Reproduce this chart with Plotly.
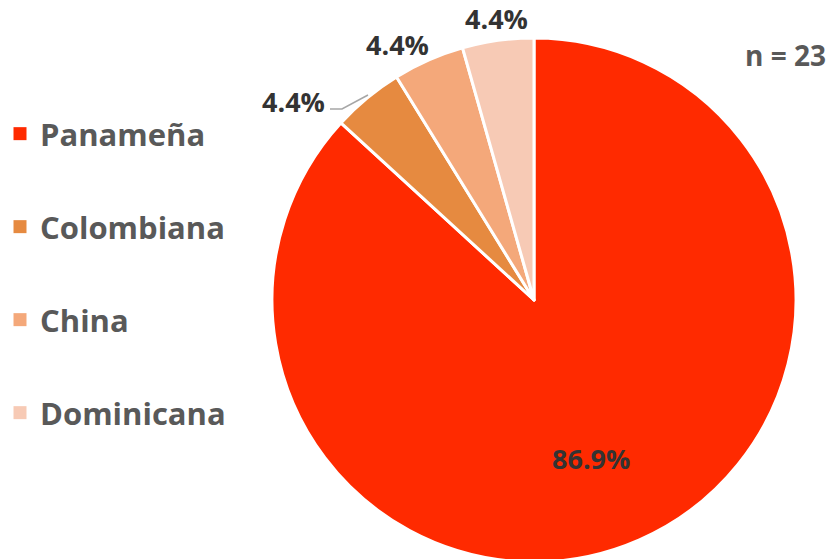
import plotly.graph_objects as go

categories = ["Panameña", "Colombiana", "China", "Dominicana"]
values = [86.9, 4.4, 4.4, 4.4]
value_labels = ["86.9%", "4.4%", "4.4%", "4.4%"]
colors = ["#FF2A00", "#E68A40", "#F4A87A", "#F7CAB5"]
sample_note = "n = 23"

W, H = 834, 600
FONT = "Open Sans"


def px(x):
    return x / W


def py(y):
    return 1 - y / H


cx, cy, r = 534, 300, 262

fig = go.Figure()

fig.add_trace(go.Pie(
    labels=categories,
    values=values,
    sort=False,
    direction="clockwise",
    rotation=0,
    marker=dict(colors=colors, line=dict(color="white", width=3)),
    textinfo="none",
    showlegend=False,
    hoverinfo="label+percent",
    domain=dict(x=[px(cx - r), px(cx + r)], y=[py(cy + r), py(cy - r)]),
))

# legend entries (one group per category, for spacing)
for cat, col in zip(categories, colors):
    fig.add_trace(go.Scatter(
        x=[None], y=[None], mode="markers", name=cat,
        marker=dict(symbol="square", size=13, color=col),
        legendgroup=cat, showlegend=True, hoverinfo="skip",
    ))

# value labels
label_pos = [(591, 458), (293, 101), (397, 45), (497, 19)]
for lab, (x0, y0) in zip(value_labels, label_pos):
    fig.add_annotation(
        x=px(x0), y=py(y0), xref="paper", yref="paper",
        text=lab, showarrow=False, xanchor="center", yanchor="middle",
        font=dict(family=FONT, size=27, color="#333333", weight="bold"),
    )

# leader line for Colombiana label
fig.add_shape(
    type="path", xref="paper", yref="paper",
    path=f"M {px(330)} {py(109)} L {px(342)} {py(109)} L {px(368)} {py(95)}",
    line=dict(color="#A6A6A6", width=1.5),
)

fig.add_annotation(
    x=px(785), y=py(55), xref="paper", yref="paper",
    text=sample_note, showarrow=False, xanchor="center", yanchor="middle",
    font=dict(family=FONT, size=28, color="#595959", weight="bold"),
)

fig.update_layout(
    width=W, height=H,
    margin=dict(l=0, r=0, t=0, b=0),
    paper_bgcolor="white", plot_bgcolor="white",
    xaxis=dict(visible=False, domain=[0, 0.01]),
    yaxis=dict(visible=False, domain=[0, 0.01]),
    legend=dict(
        x=0, y=py(107), xanchor="left", yanchor="top",
        font=dict(family=FONT, size=31, color="#595959", weight="bold"),
        tracegroupgap=49.7, itemwidth=30,
        bgcolor="rgba(0,0,0,0)",
    ),
    showlegend=True,
)

fig.write_html(
    "out.html",
    config={"displayModeBar": False},
    post_script="document.body.style.margin='0';",
)
